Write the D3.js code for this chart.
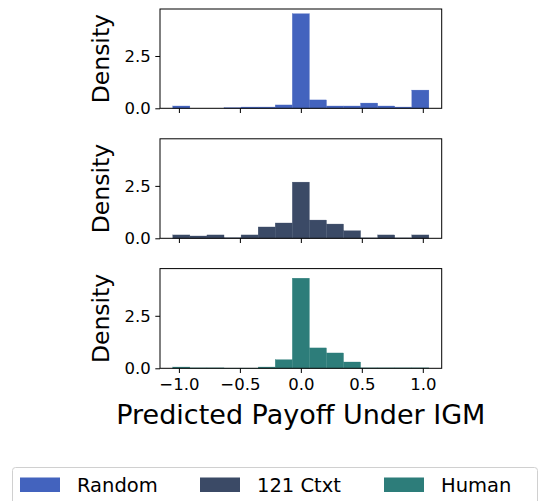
<!DOCTYPE html>
<html>
<head>
<meta charset="utf-8">
<script src="https://cdn.jsdelivr.net/npm/d3@7"></script>
<style>
body{margin:0;background:#fff;}
svg{display:block;font-family:"DejaVu Sans",sans-serif;}
</style>
</head>
<body>
<svg id="chart" width="540" height="501"></svg>
<script>
// Bin edges: 15 bins of width 0.14 from -1.05 to 1.05
const binStart = -1.05;
const binWidth = 0.14;
const seriesNames = ["Random", "121 Ctxt", "Human"];
const seriesColors = ["#4363be", "#3b4a66", "#2d7d7a"];
const randomDensity = [0.11, 0.0, 0.0, 0.03, 0.06, 0.06, 0.16, 4.52, 0.40, 0.11, 0.11, 0.25, 0.11, 0.06, 0.87];
const ctxtDensity   = [0.16, 0.11, 0.16, 0.03, 0.16, 0.54, 0.73, 2.68, 0.87, 0.68, 0.36, 0.02, 0.16, 0.02, 0.16];
const humanDensity  = [0.06, 0.02, 0.02, 0.01, 0.01, 0.06, 0.41, 4.29, 0.97, 0.73, 0.30, 0.02, 0.02, 0.02, 0.02];
const xTicks = [-1.0, -0.5, 0.0, 0.5, 1.0];
const yTicks = [0.0, 2.5];
const xLabel = "Predicted Payoff Under IGM";
const yLabel = "Density";

const allSeries = [randomDensity, ctxtDensity, humanDensity];
const svg = d3.select("#chart");

const left = 160, right = 441.7;
const panels = [{top: 9, bottom: 108.3}, {top: 138.8, bottom: 238.3}, {top: 268.6, bottom: 368.3}];
const nb = randomDensity.length;
const xmin = binStart, xmax = binStart + nb * binWidth;
const xpad = (xmax - xmin) * 0.05;
const x = d3.scaleLinear().domain([xmin - xpad, xmax + xpad]).range([left, right]);
const ymaxData = d3.max(allSeries, s => d3.max(s));
const fmt = d => d.toFixed(1).replace("-", "\u2212");

panels.forEach((p, i) => {
  const y = d3.scaleLinear().domain([0, ymaxData * 1.05]).range([p.bottom, p.top]);
  const g = svg.append("g");
  const data = allSeries[i].map((v, k) => ({x0: binStart + k * binWidth, x1: binStart + (k + 1) * binWidth, v}));
  g.selectAll("rect.bar").data(data).enter().append("rect")
    .attr("x", d => x(d.x0)).attr("width", d => x(d.x1) - x(d.x0))
    .attr("y", d => y(d.v)).attr("height", d => y(0) - y(d.v))
    .attr("fill", seriesColors[i]).attr("stroke", seriesColors[i]).attr("stroke-width", 0.3);
  // frame
  g.append("rect").attr("x", left).attr("y", p.top).attr("width", right - left).attr("height", p.bottom - p.top)
    .attr("fill", "none").attr("stroke", "#000").attr("stroke-width", 1);
  // y axis
  const ya = d3.axisLeft(y).tickValues(yTicks).tickFormat(fmt).tickSize(4.7).tickPadding(4.5);
  const yg = g.append("g").attr("transform", `translate(${left},0)`).call(ya);
  yg.select(".domain").remove();
  yg.selectAll("text").attr("font-size", 16.5).attr("font-family", "DejaVu Sans").attr("fill", "#000");
  // x axis
  const xa = d3.axisBottom(x).tickValues(xTicks).tickFormat(i === 2 ? fmt : () => "").tickSize(4.7).tickPadding(5);
  const xg = g.append("g").attr("transform", `translate(0,${p.bottom})`).call(xa);
  xg.select(".domain").remove();
  xg.selectAll("text").attr("font-size", 16.5).attr("font-family", "DejaVu Sans").attr("fill", "#000");
  // y label
  g.append("text").attr("transform", `translate(108.5,${(p.top + p.bottom) / 2}) rotate(-90)`)
    .attr("text-anchor", "middle").attr("font-size", 23.5).text(yLabel);
});

svg.append("text").attr("x", (left + right) / 2).attr("y", 424).attr("text-anchor", "middle")
  .attr("font-size", 27).text(xLabel);

// legend
const lg = svg.append("g");
lg.append("rect").attr("x", 12.5).attr("y", 467.5).attr("width", 525).attr("height", 45)
  .attr("rx", 3).attr("fill", "#fff").attr("stroke", "#d0d0d0").attr("stroke-width", 1);
const legendX = [20, 200, 384];
seriesNames.forEach((n, i) => {
  lg.append("rect").attr("x", legendX[i]).attr("y", 477.5).attr("width", 40).attr("height", 14.5).attr("fill", seriesColors[i]);
  lg.append("text").attr("x", legendX[i] + 57).attr("y", 492).attr("font-size", 19.5).text(n);
});
</script>
</body>
</html>
